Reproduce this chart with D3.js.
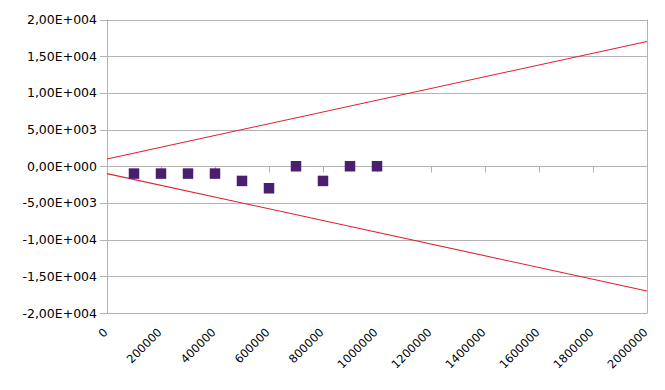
<!DOCTYPE html>
<html><head><meta charset="utf-8">
<script src="https://cdn.jsdelivr.net/npm/d3@7"></script>
<style>body{margin:0;background:#fff}svg{display:block}</style>
</head><body>
<svg id="c" width="665" height="390"></svg>
<script>
const xTicks = [0,200000,400000,600000,800000,1000000,1200000,1400000,1600000,1800000,2000000];
const yTicks = [20000,15000,10000,5000,0,-5000,-10000,-15000,-20000];
const yTickLabels = ["2,00E+004","1,50E+004","1,00E+004","5,00E+003","0,00E+000","-5,00E+003","-1,00E+004","-1,50E+004","-2,00E+004"];
const pointX = [100000,200000,300000,400000,500000,600000,700000,800000,900000,1000000];
const pointY = [-1000,-1000,-1000,-1000,-2000,-3000,0,-2000,0,0];
const upperLine = [[0,1000],[2000000,17000]];
const lowerLine = [[0,-1000],[2000000,-17000]];

const svg = d3.select("#c");
const L=107, R=647, T=19.5, B=313;
const x = d3.scaleLinear().domain([0,2000000]).range([L,R]);
const y = d3.scaleLinear().domain([-20000,20000]).range([B,T]);
const grid = "#b3b3b3";
const font = "DejaVu Sans, sans-serif";

// horizontal grid
svg.append("g").selectAll("line").data(yTicks).join("line")
  .attr("x1",L-7).attr("x2",R).attr("y1",d=>Math.round(y(d))+0.5).attr("y2",d=>Math.round(y(d))+0.5)
  .attr("stroke",grid).attr("stroke-width",1);
// plot frame (left and right)
svg.append("line").attr("x1",L+0.5).attr("x2",L+0.5).attr("y1",T).attr("y2",B+0.5).attr("stroke",grid);
svg.append("line").attr("x1",R+0.5).attr("x2",R+0.5).attr("y1",T).attr("y2",B+0.5).attr("stroke",grid);
// x ticks on zero line
const y0 = Math.round(y(0))+0.5;
svg.append("g").selectAll("line").data(xTicks).join("line")
  .attr("x1",d=>Math.round(x(d))+0.5).attr("x2",d=>Math.round(x(d))+0.5)
  .attr("y1",y0).attr("y2",y0+6).attr("stroke",grid);

// y labels
svg.append("g").selectAll("text").data(yTicks).join("text")
  .attr("x",97).attr("y",d=>y(d)+4.5).attr("text-anchor","end")
  .attr("font-family",font).attr("font-size","12.5px").attr("fill","#000")
  .text((d,i)=>yTickLabels[i]);
// x labels
svg.append("g").selectAll("text").data(xTicks).join("text")
  .attr("transform",d=>`translate(${x(d)+1.5},333) rotate(-45)`)
  .attr("text-anchor","end")
  .attr("font-family",font).attr("font-size","11.5px").attr("fill","#000")
  .text(d=>String(d));

// lines
const line = d3.line().x(d=>x(d[0])).y(d=>y(d[1]));
[upperLine,lowerLine].forEach(l=>{
  svg.append("path").attr("d",line(l)).attr("fill","none").attr("stroke","#dd2230").attr("stroke-width",1.1);
});

// points
const s = 10.5;
svg.append("g").selectAll("rect").data(pointX).join("rect")
  .attr("x",d=>x(d)-s/2).attr("y",(d,i)=>y(pointY[i])-s/2)
  .attr("width",s).attr("height",s).attr("fill","#4b1f6f");
</script>
</body></html>
